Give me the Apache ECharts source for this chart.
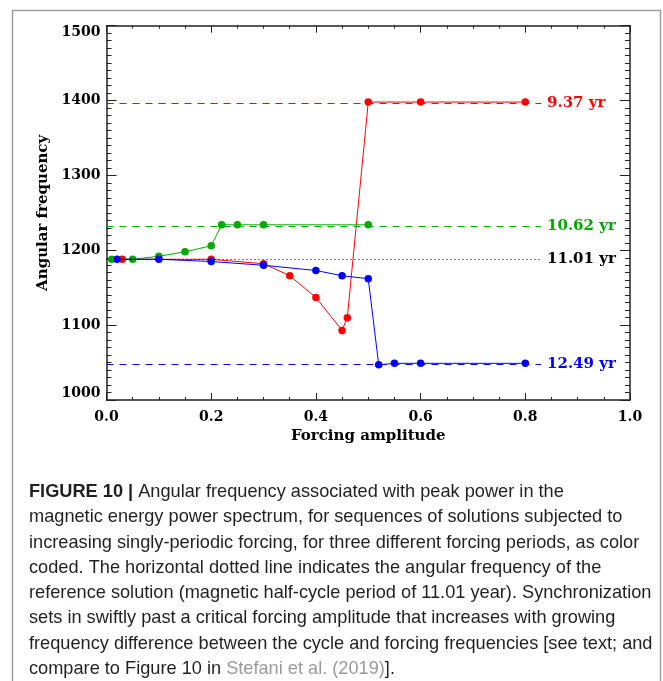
<!DOCTYPE html>
<html><head><meta charset="utf-8">
<script src="https://cdn.jsdelivr.net/npm/echarts@6/dist/echarts.min.js"></script>
<style>html,body{margin:0;padding:0;background:#fff}#c{width:663px;height:681px}</style>
</head><body><div id="c"></div>
<script>
// ---- data ----
const xTicks = [0.0, 0.2, 0.4, 0.6, 0.8, 1.0];
const yTicks = [1000, 1100, 1200, 1300, 1400, 1500];

const redX = [0.03, 0.2, 0.3, 0.35, 0.4, 0.45, 0.46, 0.5, 0.6, 0.8];
const redY = [1188, 1188, 1182, 1166, 1137, 1093, 1110, 1398, 1398, 1398];

const greenX = [0.01, 0.05, 0.1, 0.15, 0.2, 0.22, 0.25, 0.3, 0.5];
const greenY = [1188, 1188, 1192, 1198, 1206, 1234, 1234, 1234, 1234];

const blueX = [0.02, 0.1, 0.2, 0.3, 0.4, 0.45, 0.5, 0.52, 0.55, 0.6, 0.8];
const blueY = [1188, 1188, 1185, 1180, 1173, 1166, 1162, 1047, 1049, 1049, 1049];

const refLabels = ['9.37 yr', '10.62 yr', '11.01 yr', '12.49 yr'];
const refValues = [1396.5, 1232.5, 1188, 1047.5];
const refEndX = 0.83;

const captionLines = [
  'Angular frequency associated with peak power in the',
  'magnetic energy power spectrum, for sequences of solutions subjected to',
  'increasing singly-periodic forcing, for three different forcing periods, as color',
  'coded. The horizontal dotted line indicates the angular frequency of the',
  'reference solution (magnetic half-cycle period of 11.01 year). Synchronization',
  'sets in swiftly past a critical forcing amplitude that increases with growing',
  'frequency difference between the cycle and forcing frequencies [see text; and',
  'compare to Figure 10 in '
];
const captionTitle = 'FIGURE 10 |';
const captionRef = 'Stefani et al. (2019)';
const captionTail = '].';

// ---- chart ----
const RED = '#ff0000', GREEN = '#00aa00', BLUE = '#0000ff', BLACK = '#000000';
const refColors = [RED, GREEN, BLACK, BLUE];
const refTypes = [[7, 6], [7, 6], [1, 3], [7, 6]];
const SERIF = '"DejaVu Serif", serif';
const zip = (xs, ys) => xs.map((x, i) => [x, ys[i]]);

const chart = echarts.init(document.getElementById('c'), null, {renderer: 'canvas'});

const axisLineStyle = {color: '#222', width: 1.5};
const baseX = {
  type: 'value', min: 0, max: 1, interval: 0.2,
  axisLine: {show: true, onZero: false, lineStyle: axisLineStyle},
  axisTick: {show: true, inside: true, length: 7, lineStyle: {color: '#222', width: 1}},
  minorTick: {show: true, splitNumber: 4, length: 3, lineStyle: {color: '#222', width: 1}},
  splitLine: {show: false}, minorSplitLine: {show: false}
};
const baseY = {
  type: 'value', min: 1000, max: 1500, interval: 100,
  axisLine: {show: true, onZero: false, lineStyle: axisLineStyle},
  axisTick: {show: true, inside: true, length: 10, lineStyle: {color: '#222', width: 1}},
  minorTick: {show: true, splitNumber: 10, length: 5, lineStyle: {color: '#222', width: 1}},
  splitLine: {show: false}, minorSplitLine: {show: false}
};

const markData = refValues.map((v, i) => [
  {coord: [0, v], lineStyle: {color: refColors[i], type: refTypes[i], width: 1.2},
   label: {show: true, position: 'end', distance: 6, formatter: refLabels[i],
           color: refColors[i], fontFamily: SERIF, fontWeight: 'bold', fontSize: 15}},
  {coord: [refEndX, v]}
]);

const lineSeries = (name, xs, ys, color, z) => ({
  name, type: 'line', data: zip(xs, ys), z,
  symbol: 'circle', symbolSize: 7.5, showSymbol: true,
  itemStyle: {color}, lineStyle: {color, width: 1},
  emphasis: {disabled: true}, animation: false
});

const captionText =
  '{b|' + captionTitle + '}{n| ' + captionLines[0] + '}\n' +
  captionLines.slice(1, 7).map(l => '{n|' + l + '}').join('\n') + '\n' +
  '{n|' + captionLines[7] + '}{g|' + captionRef + '}{n|' + captionTail + '}';

const capFont = '"Liberation Sans", Arial, sans-serif';
const capSize = 18.2, capLH = 25.25;
chart.setOption({
  animation: false,
  grid: {left: 106.5, right: 33, top: 25.7, bottom: 281, containLabel: false},
  xAxis: [
    Object.assign({}, baseX, {
      position: 'bottom',
      name: 'Forcing amplitude', nameLocation: 'middle', nameGap: 29,
      nameTextStyle: {fontFamily: SERIF, fontWeight: 'bold', fontSize: 15, color: '#000'},
      axisLabel: {show: true, margin: 10, fontFamily: SERIF, fontWeight: 'bold', fontSize: 14, color: '#000',
                  formatter: v => v.toFixed(1)}
    }),
    Object.assign({}, baseX, {position: 'top', axisLabel: {show: false}})
  ],
  yAxis: [
    Object.assign({}, baseY, {
      position: 'left',
      name: 'Angular frequency', nameLocation: 'middle', nameGap: 55,
      nameTextStyle: {fontFamily: SERIF, fontWeight: 'bold', fontSize: 15, color: '#000'},
      axisLabel: {show: true, margin: 6, fontFamily: SERIF, fontWeight: 'bold', fontSize: 14, color: '#000',
                  verticalAlignMinLabel: 'bottom', verticalAlignMaxLabel: 'top',
                  formatter: v => String(v)}
    }),
    Object.assign({}, baseY, {position: 'right', axisLabel: {show: false}})
  ],
  series: [
    {type: 'line', data: [], z: 1, silent: true,
     markLine: {silent: true, symbol: ['none', 'none'], animation: false, data: markData}},
    lineSeries('red', redX, redY, RED, 2),
    lineSeries('green', greenX, greenY, GREEN, 3),
    lineSeries('blue', blueX, blueY, BLUE, 4)
  ],
  title: {
    left: 29, top: 479.4, padding: 0,
    text: captionText,
    textStyle: {
      fontFamily: capFont, fontSize: capSize, lineHeight: capLH, color: '#231f20', fontWeight: 'normal',
      rich: {
        b: {fontFamily: capFont, fontSize: capSize, lineHeight: capLH, fontWeight: 'bold', color: '#231f20'},
        n: {fontFamily: capFont, fontSize: capSize, lineHeight: capLH, fontWeight: 'normal', color: '#231f20'},
        g: {fontFamily: capFont, fontSize: capSize, lineHeight: capLH, fontWeight: 'normal', color: '#9a9a9a'}
      }
    }
  },
  graphic: [
    {type: 'polyline', silent: true, z: 0,
     shape: {points: [[12.5, 681], [12.5, 10.5], [660.5, 10.5], [660.5, 681]]},
     style: {stroke: '#9e9e9e', lineWidth: 1.5, fill: null}}
  ]
});
</script></body></html>
